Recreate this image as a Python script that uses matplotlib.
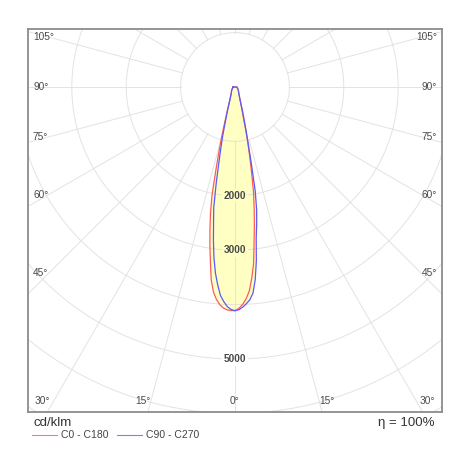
"""Luminous intensity distribution (polar LDC) in cd/klm."""

import matplotlib

matplotlib.use("Agg")
import matplotlib.pyplot as plt
import numpy as np

plt.rcParams["font.family"] = ["Liberation Sans", "DejaVu Sans"]

# gamma angles (deg from nadir) shared by all half-planes
gamma = [0, 1, 2, 3, 4, 5, 6, 7, 8, 9, 10, 11, 12, 13, 14, 15, 17.5, 20,
         25, 30, 40, 50, 60, 70, 80, 90]
# C0 - C180 plane, left and right half (cd/klm)
c0_c180_left = [4112, 4110, 4100, 4070, 4010, 3920, 3790, 3580, 3250, 2950,
                2650, 2360, 2030, 1560, 1200, 950, 510, 330, 195, 140, 100,
                75, 55, 45, 40, 35]
c0_c180_right = [4112, 4070, 4000, 3900, 3760, 3530, 3270, 2880, 2560, 2250,
                 1960, 1600, 1290, 1040, 810, 610, 400, 300, 190, 140, 100,
                 75, 55, 45, 40, 35]
# C90 - C270 plane
c90_c270_left = [4112, 4090, 4040, 3950, 3840, 3650, 3440, 3170, 2850, 2520,
                 2250, 1820, 1440, 1160, 950, 750, 460, 300, 190, 140, 100,
                 75, 55, 45, 40, 35]
c90_c270_right = [4112, 4095, 4050, 3990, 3920, 3800, 3560, 3220, 2800, 2550,
                  2290, 1950, 1450, 1100, 880, 700, 460, 300, 190, 140, 100,
                  75, 55, 45, 40, 35]

rings = [1000, 2000, 3000, 4000, 5000, 6000, 7000]
ring_labels = [2000, 3000, 5000]
side_angles = [45, 60, 75, 90, 105]
bottom_angles = [30, 15, 0, 15, 30]
series_names = ["C0 - C180", "C90 - C270"]

# layout: pixel geometry of the reference frame
PX = 0.0544  # px per cd/klm
XMAX = 207 / PX
YTOP, YBOT = 58 / PX, -325 / PX
FILL = "#ffffc4"


def to_xy(angles, left, right):
    a_l = np.radians(np.asarray(angles[::-1], float))
    r_l = np.asarray(left[::-1], float)
    a_r = np.radians(np.asarray(angles, float))
    r_r = np.asarray(right, float)
    x = np.concatenate([-r_l * np.sin(a_l), r_r * np.sin(a_r)])
    y = np.concatenate([-r_l * np.cos(a_l), -r_r * np.cos(a_r)])
    return np.append(x, x[0]), np.append(y, y[0])


fig = plt.figure(figsize=(4.7, 4.7), dpi=100)
ax = fig.add_axes([28 / 470, 1 - 412 / 470, 414 / 470, 383 / 470])
ax.set_xlim(-XMAX, XMAX)
ax.set_ylim(YBOT, YTOP)
ax.set_xticks([])
ax.set_yticks([])
for sp in ax.spines.values():
    sp.set_color("#8c8c8c")
    sp.set_linewidth(1.3)

xr, yr = to_xy(gamma, c0_c180_left, c0_c180_right)
xb, yb = to_xy(gamma, c90_c270_left, c90_c270_right)
ax.fill(xr, yr, color=FILL, lw=0, zorder=1)
ax.fill(xb, yb, color=FILL, lw=0, zorder=1)

grid_kw = dict(color="#dedede", lw=0.7, zorder=2, alpha=0.85)
t = np.linspace(0, 2 * np.pi, 400)
for r in rings:
    ax.plot(r * np.sin(t), r * np.cos(t), **grid_kw)
for a in range(0, 360, 15):
    ar = np.radians(a)
    ax.plot([rings[0] * np.sin(ar), 9000 * np.sin(ar)],
            [-rings[0] * np.cos(ar), -9000 * np.cos(ar)], **grid_kw)

ax.plot(xr, yr, color="#ff5a5a", lw=0.9, zorder=3)
ax.plot(xb, yb, color="#5a5aff", lw=0.9, zorder=3)

for r in ring_labels:
    bg = FILL if r < max(c0_c180_left) else "white"
    ax.text(0, -r, str(r), ha="center", va="center", fontsize=7.3,
            fontweight="bold", color="#4a4a4a", zorder=4,
            bbox=dict(boxstyle="square,pad=0.15", fc=bg, ec="none"))

lab_kw = dict(fontsize=7.3, color="#4a4a4a", va="center", zorder=4)
x_in = 5 / PX
for a in side_angles:
    y = -0.9 * XMAX / np.tan(np.radians(a)) if a != 90 else 0.0
    ax.text(-XMAX + x_in, y, f"{a}°", ha="left", **lab_kw)
    ax.text(XMAX - x_in, y, f"{a}°", ha="right", **lab_kw)
for i, a in enumerate(bottom_angles):
    sign = -1 if i < 2 else 1
    x = sign * (-YBOT * np.tan(np.radians(a)) + (5 / PX if a else 0))
    ax.text(x, YBOT + 11 / PX, f"{a}°", ha="center", **lab_kw)

fig.text(33 / 470, 1 - 423 / 470, "cd/klm", fontsize=9.5, color="#333333",
         va="center", ha="left")
fig.text(435 / 470, 1 - 423 / 470, "η = 100%", fontsize=9.5,
         color="#333333", va="center", ha="right")
for x0, name, col in [(32, series_names[0], "#f08080"),
                      (117, series_names[1], "#8080f0")]:
    fig.add_artist(plt.Line2D([x0 / 470, (x0 + 25) / 470],
                              [1 - 435 / 470] * 2, color=col, lw=0.8))
    fig.text((x0 + 29) / 470, 1 - 435 / 470, name, fontsize=7.5,
             color="#444444", va="center", ha="left")

fig.savefig("out.png", dpi=100, facecolor="white")
